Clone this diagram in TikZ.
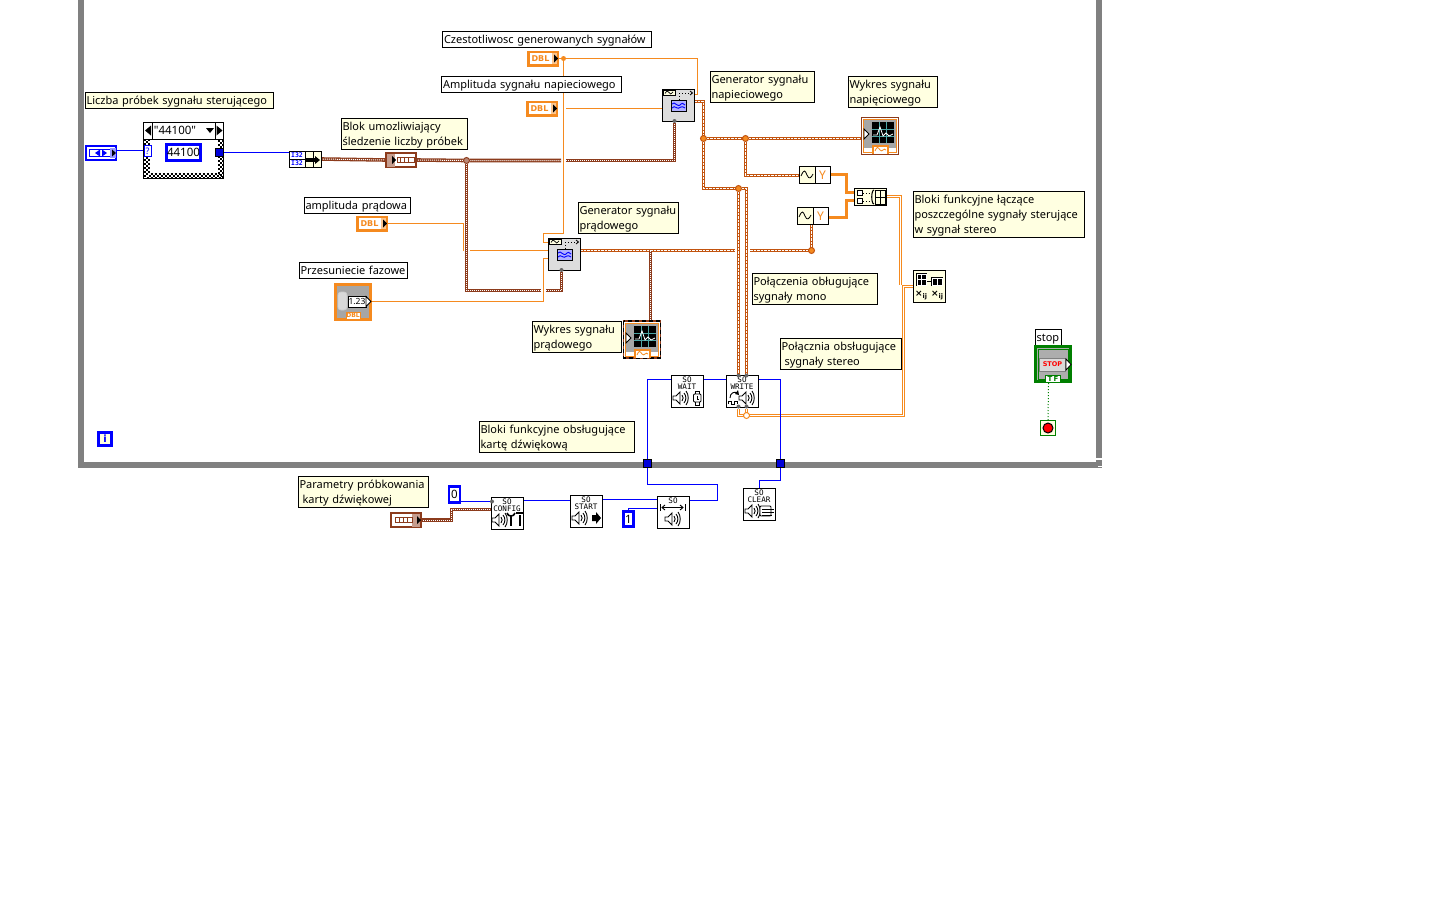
\documentclass[tikz,border=0pt]{standalone}
\usepackage{fontspec}
\setmainfont{Noto Sans}
\newfontfamily\plainsans{Noto Sans}
\newfontfamily\pixfont{DejaVu Sans Mono}
\newfontfamily\tagfont{DejaVu Sans}
\usetikzlibrary{calc}
\definecolor{cmtfill}{HTML}{FFFFE1}
\definecolor{framegray}{HTML}{808080}
\definecolor{dblor}{HTML}{F58A1F}
\definecolor{wfmbr}{HTML}{8C3B1C}
\definecolor{wfmor}{HTML}{C2540F}
\definecolor{intbl}{HTML}{0000FF}
\definecolor{genfill}{HTML}{DDDDDD}
\definecolor{lvgreen}{HTML}{007F00}
\pgfdeclarelayer{under}
\pgfsetlayers{under,main}
\tikzset{
  every node/.style={outer sep=0pt},
  cmt/.style={draw=black,line width=1pt,fill=cmtfill,anchor=north west,inner xsep=1.5pt,inner ysep=0pt,align=left,text height=11pt,text depth=2pt,font=\fontsize{11}{15}\selectfont},
  lbl/.style={cmt,fill=white},
  two/.style={text depth=17pt},
  three/.style={text depth=32pt},
  vi/.style={draw=black,line width=1pt,fill=white,minimum width=32pt,minimum height=32pt,inner sep=0pt,anchor=north west},
  gen/.style={vi,fill=genfill},
  dblbox/.style={draw=dblor,line width=2.5pt,fill=white,minimum width=29.5pt,minimum height=13.5pt,inner sep=0pt,text=dblor,font=\tagfont\bfseries\fontsize{8}{8}\selectfont},
  wfmbox/.style={draw=wfmbr,line width=2pt,fill=white,minimum width=30pt,minimum height=14pt,inner sep=0pt},
  numbox/.style={draw=intbl,line width=2.5pt,fill=white,inner sep=0pt,font=\fontsize{11.5}{12}\selectfont},
  tunnel/.style={draw=black,line width=.7pt,fill=intbl!85!black,minimum size=8pt,inner sep=0pt},
  dblw/.style={draw=dblor,line width=1pt},
  intw/.style={draw=intbl,line width=1pt},
  orthick/.style={draw=dblor,line width=3pt},
  orw/.style={draw=dblor,line width=3.4pt,postaction={draw=white,line width=1pt}},
  wfb/.style={draw=wfmbr,line width=3.6pt,postaction={draw=white,line width=1pt,dash pattern=on 1pt off 1pt}},
  wfo/.style={draw=wfmor,line width=3.6pt,postaction={draw=white,line width=1pt,dash pattern=on 2.5pt off 1pt}},
  joint/.style={circle,fill=dblor,draw=wfmor,line width=1pt,minimum size=6pt,inner sep=0pt},
  joinb/.style={circle,fill=wfmbr!60!white,draw=wfmbr,line width=1pt,minimum size=6pt,inner sep=0pt},
  joins/.style={circle,fill=dblor,minimum size=5pt,inner sep=0pt},
  port/.style={circle,fill=black!60,minimum size=4pt,inner sep=0pt},
  icon/.style={draw=black,line width=.9pt},
  sotext/.style={inner sep=0pt,font=\pixfont\fontsize{7.6}{8}\selectfont},
}
\newcommand{\spk}[2]{\begin{scope}[shift={(#1,#2)}]
  \draw[icon,fill=white] (0,-2)--(3,-2)--(7,-6)--(7,6)--(3,2)--(0,2)--cycle;
  \draw[icon] (9,-3) .. controls (10.5,-1.5) and (10.5,1.5) .. (9,3);
  \draw[icon] (11,-5) .. controls (13.5,-2) and (13.5,2) .. (11,5);
  \draw[icon] (13,-7) .. controls (16,-3) and (16,3) .. (13,7);
\end{scope}}
\newcommand{\sotitle}[3]{\node[sotext] at (#1,#2+5) {SO}; \node[sotext] at (#1,#2+12) {#3};}
\newcommand{\gentile}[2]{\begin{scope}[shift={(#1,#2)}]
  \draw[black,line width=.8pt,fill=cmtfill] (0,0) rectangle (12,5);
  \draw[black,line width=.7pt] (2,3.4) .. controls (4,0.5) and (5,0.5) .. (6,2.5) .. controls (7,4.5) and (8,4.5) .. (10,1.8);
  \draw[black,line width=1pt,dotted] (16,3)--(29,3);
  \draw[black,line width=.8pt] (27,1)--(29.5,3)--(27,5);
  \draw[black,line width=.8pt,dotted] (16,3)--(16,9);
  \draw[black,line width=1pt,fill=white] (8,10) rectangle (23,21);
  \fill[intbl!30!white] (8.6,10.6) rectangle (22.5,20.5);
  \draw[intbl,line width=.9pt] (9,14) .. controls (12,10) and (14,19) .. (18,14) .. controls (19,13) and (20,13) .. (22,15);
  \draw[intbl,line width=.9pt] (9,18) .. controls (12,14) and (14,21) .. (18,17) .. controls (19,16) and (20,17) .. (22,18);
\end{scope}}
\newcommand{\grafic}[2]{\begin{scope}[shift={(#1,#2)}]
  \draw[dblor,line width=1.6pt] (2.5,2.5) rectangle (35.5,35.5);
  \fill[black!35] (3.4,3.4) rectangle (34.6,31);
  \fill[black] (11,5) rectangle (33,26);
  \draw[teal!70!white,line width=.5pt] (11,12)--(33,12) (11,19)--(33,19) (18,5)--(18,26) (25,5)--(25,26);
  \draw[white,line width=.8pt] (12,18)--(16,18)--(19,10)--(22,19)--(25,16)--(28,19)--(32,17);
  \draw[black,line width=.8pt,fill=white] (3,12)--(8,17)--(3,22)--cycle;
  \draw[dblor,line width=1.2pt,fill=white] (12,37)--(12,29)--(27,29)--(27,37);
  \draw[dblor,line width=.8pt] (14,34) .. controls (16,29) and (17,30) .. (19,33) .. controls (21,36) and (23,30) .. (25,33);
\end{scope}}
\begin{document}
\begin{tikzpicture}[x=1pt,y=-1pt]
\useasboundingbox (0,0) rectangle (1440,900);
% ---------- comments and labels
\node[cmt,text width=185pt,minimum height=16pt] (cLiczba) at (85,92) {Liczba próbek sygnału sterującego};
\node[cmt,two,text width=123pt,minimum height=31pt] (cBlok) at (341,118) {Blok umozliwiający\\śledzenie liczby próbek};
\node[lbl,text width=103pt,minimum height=16pt] (cAmpPr) at (304,197) {amplituda prądowa};
\node[lbl,text width=105pt,minimum height=16pt] (cPrzes) at (299,262) {Przesuniecie fazowe};
\node[lbl,text width=206pt,minimum height=16pt] (cCzest) at (442.5,31) {Czestotliwosc generowanych sygnałów};
\node[lbl,text width=177pt,minimum height=16pt] (cAmpNap) at (441.5,76) {Amplituda sygnału napieciowego};
\node[cmt,two,text width=101pt,minimum height=31pt] (cGenNap) at (710,71) {Generator sygnału\\napieciowego};
\node[cmt,two,text width=86pt,minimum height=31pt] (cWykNap) at (848,76) {Wykres sygnału\\napięciowego};
\node[cmt,two,text width=97pt,minimum height=31pt] (cGenPr) at (578,202) {Generator sygnału\\prądowego};
\node[cmt,three,text width=168pt,minimum height=46pt] (cBloki) at (913,191) {Bloki funkcyjne łączące\\poszczególne sygnały sterujące\\w sygnał stereo};
\node[cmt,two,text width=122pt,minimum height=31pt] (cMono) at (752,273) {Połączenia obługujące\\sygnały mono};
\node[cmt,two,text width=118pt,minimum height=31pt] (cStereo) at (780,338) {Połącznia obsługujące\\\hspace*{3pt}sygnały stereo};
\node[cmt,two,text width=86pt,minimum height=31pt] (cWykPr) at (532,321) {Wykres sygnału\\prądowego};
\node[cmt,two,text width=152pt,minimum height=31pt] (cKarta) at (479,421) {Bloki funkcyjne obsługujące\\kartę dźwiękową};
\node[cmt,two,text width=127pt,minimum height=31pt] (cParam) at (298,476) {Parametry próbkowania\\\hspace*{3pt}karty dźwiękowej};
\node[lbl,text width=23pt,minimum height=16pt] (cStop) at (1035,329) {stop};
% ---------- case structure and its contents
\node[draw=black,line width=1pt,fill=white,minimum width=80pt,minimum height=56pt,inner sep=0pt,anchor=north west] (case) at (143.5,122.5) {};
\foreach \o/\s in {0/0,2/2,4/0}{
  \draw[black,line width=2pt,dash pattern=on 2pt off 2pt,dash phase=\s pt] (145+\o,139)--(145+\o,177.5-\o)--(222.5-\o,177.5-\o)--(222.5-\o,139);
}
\node[draw=black,line width=1pt,fill=white,minimum width=80pt,minimum height=17pt,inner sep=0pt,anchor=north west] (sel) at (143.5,122.5) {};
\draw[black,line width=1pt] (152.5,122.5)--(152.5,139) (215,122.5)--(215,139);
\fill[black] (145,130.5)--(151,125.5)--(151,135.5)--cycle;
\fill[black] (222.5,130.5)--(216.5,125.5)--(216.5,135.5)--cycle;
\fill[black] (206,128)--(214,128)--(210,133)--cycle;
\node[inner sep=0pt,font=\plainsans\fontsize{11.5}{12}\selectfont] (seltxt) at (175,130.5) {"44100"};
\node[draw=intbl,line width=1pt,fill=white,text=intbl,minimum width=7pt,minimum height=11pt,inner sep=0pt,font=\fontsize{9}{9}\selectfont] (selq) at (147.5,151) {?};
\node[numbox,minimum width=34pt,minimum height=16pt] (c44100) at (183.5,152.5) {44100};
\node[tunnel] (tcase) at (219.5,152.5) {};
% enum
\node[draw=intbl,line width=2.5pt,fill=white,minimum width=30pt,minimum height=14pt,inner sep=0pt] (enumc) at (101,153) {};
\draw[intbl,line width=1pt] (89,149.5) rectangle (110,156.5);
\fill[intbl!40!white] (110,148) rectangle (115.5,158);
\fill[intbl] (95,153)--(100,149.5)--(100,156.5)--cycle;
\fill[intbl] (107,153)--(102,149.5)--(102,156.5)--cycle;
\fill[black] (116,153)--(112,149.5)--(112,156.5)--cycle;
% build array
\node[draw=black,line width=1pt,fill=cmtfill,minimum width=32pt,minimum height=16pt,inner sep=0pt,anchor=north west] (build) at (289,151) {};
\draw[black,line width=1pt,fill=white] (289,151) rectangle (305,159) (289,159) rectangle (305,167);
\node[inner sep=0pt,text=intbl,font=\pixfont\bfseries\fontsize{6.5}{7}\selectfont] (i32a) at (297,155) {I32};
\node[inner sep=0pt,text=intbl,font=\pixfont\bfseries\fontsize{6.5}{7}\selectfont] (i32b) at (297,163) {I32};
\draw[black,line width=.8pt] (305,151)--(305,167) (313,151)--(313,167);
\fill[black] (306,158) rectangle (315,162);
\fill[black] (315,156)--(320,160)--(315,164)--cycle;
% waveform constant
\node[wfmbox,minimum width=30pt,minimum height=14pt] (wfm1) at (401,160) {};
\fill[wfmbr!50!white] (387,153.5) rectangle (395,166.5);
\fill[black] (396,160)--(392,156)--(392,164)--cycle;
\draw[wfmbr,line width=1pt] (397,157.5) rectangle (414,162.5);
\draw[wfmbr,line width=1pt] (400,158)--(400,162) (404,158)--(404,162) (408,158)--(408,162);
% DBL terminals
\node[dblbox] (dblF) at (543,58.5) {\hspace*{-5pt}DBL};
\fill[dblor!50!white] (552,53) rectangle (557,64); \fill[black] (558,58.5)--(554,54.5)--(554,62.5)--cycle;
\node[dblbox] (dblA) at (542,108.5) {\hspace*{-5pt}DBL};
\fill[dblor!50!white] (551,103) rectangle (556,114); \fill[black] (557,108.5)--(553,104.5)--(553,112.5)--cycle;
\node[dblbox] (dblP) at (372,223.5) {\hspace*{-5pt}DBL};
\fill[dblor!50!white] (381,218) rectangle (386,229); \fill[black] (387,223.5)--(383,219.5)--(383,227.5)--cycle;
% phase control
\node[draw=dblor,line width=3pt,fill=black!35,minimum width=35pt,minimum height=35pt,inner sep=0pt] (ctlPh) at (353,301.5) {};
\draw[white!80!black,line width=.8pt,fill=black!15,rounded corners=3pt] (338,292) rectangle (347,310);
\node[draw=black,line width=.5pt,fill=white,minimum width=18pt,minimum height=11pt,inner sep=0pt,font=\fontsize{8.5}{9}\selectfont] (ctlTxt) at (357,301.5) {1.23};
\draw[black,line width=.8pt,fill=white] (366,296.5)--(371,301.5)--(366,306.5)--cycle;
\node[draw=dblor,line width=1pt,fill=white,text=dblor,minimum width=14pt,minimum height=7pt,inner sep=0pt,font=\tagfont\bfseries\fontsize{6}{7}\selectfont] (ctlTag) at (353,315.5) {DBL};
% generators
\node[gen] (gen1) at (662,89) {};
\gentile{663}{90}
\node[gen] (gen2) at (548,238) {};
\gentile{549}{239}
% graphs
\node[draw=wfmbr,line width=1pt,fill=white,minimum width=37pt,minimum height=37pt,inner sep=0pt,anchor=north west] (gr1) at (861.5,117.5) {};
\grafic{861}{117}
\node[draw=wfmbr,line width=1.5pt,fill=white,minimum width=37pt,minimum height=37pt,inner sep=0pt,anchor=north west] (gr2) at (623.5,321) {};
\draw[black,line width=1.5pt,dash pattern=on 4pt off 3pt] (623.5,321) rectangle (660.5,358);
\grafic{623}{321}
% to-dynamic blocks
\node[draw=black,line width=1pt,fill=white,minimum width=31pt,minimum height=17pt,inner sep=0pt,anchor=north west] (dyn1) at (799,166.5) {};
\fill[cmtfill] (799.5,167) rectangle (815,183);
\draw[black,line width=1pt] (815,166.5)--(815,183.5);
\draw[black,line width=.8pt] (801,176) .. controls (804,169) and (805,170) .. (807,175) .. controls (809,180) and (811,178) .. (813,174);
\node[inner sep=0pt,text=dblor,font=\fontsize{12}{12}\selectfont] (dyn1y) at (822.5,175) {Y};
\node[draw=black,line width=1pt,fill=white,minimum width=31pt,minimum height=17pt,inner sep=0pt,anchor=north west] (dyn2) at (797,207.5) {};
\fill[cmtfill] (797.5,208) rectangle (813,224);
\draw[black,line width=1pt] (813,207.5)--(813,224.5);
\draw[black,line width=.8pt] (799,217) .. controls (802,210) and (803,211) .. (805,216) .. controls (807,221) and (809,219) .. (811,215);
\node[inner sep=0pt,text=dblor,font=\fontsize{12}{12}\selectfont] (dyn2y) at (820.5,216) {Y};
% merge matrix block
\node[draw=black,line width=1pt,fill=cmtfill,minimum width=32pt,minimum height=17pt,inner sep=0pt,anchor=north west] (mrg) at (854,188) {};
\draw[black,line width=.9pt,fill=white] (857,190.5) rectangle (862,195) (857,198.5) rectangle (862,203);
\draw[black,line width=.8pt,dotted] (863,193)--(871,193) (863,201)--(871,201);
\draw[black,line width=1.1pt] (874,190) .. controls (871,190) and (871,204) .. (874,204);
\draw[black,line width=1pt] (875,190) rectangle (885,204) (875,197)--(885,197) (880,190)--(880,204);
% stereo split block
\node[draw=black,line width=1pt,fill=cmtfill,minimum width=32pt,minimum height=32pt,inner sep=0pt,anchor=north west] (spl) at (913.5,270.5) {};
\fill[black] (916,273) rectangle (927,286);
\draw[white,line width=.7pt] (917,274) rectangle (926,285) (921.5,274)--(921.5,285) (917,279.5)--(926,279.5);
\fill[black] (931,277) rectangle (943,286);
\draw[white,line width=.7pt] (932,278) rectangle (942,285) (937,278)--(937,285);
\draw[black,line width=.8pt] (927,281)--(931,281);
\node[inner sep=0pt,font=\tagfont\bfseries\fontsize{9}{9}\selectfont] (splA) at (921,295.5) {×\raisebox{-1.5pt}{\fontsize{6.5}{7}\selectfont ij}};
\node[inner sep=0pt,font=\tagfont\bfseries\fontsize{9}{9}\selectfont] (splB) at (937,295.5) {×\raisebox{-1.5pt}{\fontsize{6.5}{7}\selectfont ij}};
% sound blocks
\node[vi] (wait) at (671,375) {};
\sotitle{687}{375}{WAIT}
\spk{673}{398}
\draw[icon,fill=white,rounded corners=1pt] (693.5,394) rectangle (701,402);
\draw[icon] (695,391)--(699.5,391)--(699.5,394) (695,391)--(695,394) (695,402)--(695,405)--(699.5,405)--(699.5,402) (697,396)--(697,399)--(699,399);
\node[vi] (write) at (726,375) {};
\sotitle{742}{375}{WRITE}
\spk{739}{398}
\draw[icon] (728,404)--(728,401)--(731,401)--(731,404)--(734,404)--(734,401)--(737,401)--(737,404);
\draw[icon] (730,398) .. controls (730,393) and (734,391) .. (738,393);
\fill[black] (738,390)--(739,395)--(735,394)--cycle;
\node[vi] (config) at (491,497) {};
\sotitle{507}{497}{CONFIG}
\spk{492}{520}
\draw[black,line width=2pt] (511,515)--(511,526) (520,515)--(520,526);
\draw[black,line width=1.6pt] (507,513) .. controls (508,517) and (514,517) .. (515,513);
\draw[black,line width=2.2pt] (516,513)--(524,513);
\node[vi] (start) at (570,495) {};
\sotitle{586}{495}{START}
\spk{572}{518}
\fill[black] (592,515) rectangle (596,521) (596,512)--(601,518)--(596,524)--cycle;
\node[vi] (setb) at (657,496) {};
\node[sotext] (settxt) at (673,501) {SO};
\draw[black,line width=.9pt] (660,504)--(660,511) (685,504)--(685,511) (662,507.5)--(683,507.5);
\draw[black,line width=.9pt] (665,505)--(662,507.5)--(665,510) (680,505)--(683,507.5)--(680,510);
\spk{665}{519}
\node[vi] (clear) at (743,488) {};
\sotitle{759}{488}{CLEAR}
\spk{745}{511}
\draw[icon,fill=white,rounded corners=1pt] (760,506) rectangle (771,516);
\draw[icon] (762,509)--(774,509) (762,512)--(774,512) (762,515)--(772,515);
% numeric constants
\node[numbox,minimum width=11pt,minimum height=16pt] (c0) at (454.5,494.5) {0};
\node[numbox,minimum width=10pt,minimum height=15pt] (c1) at (628.5,519) {1};
% sample rate waveform constant
\node[wfmbox,minimum width=30pt,minimum height=14pt] (wfm2) at (406,520) {};
\fill[wfmbr!50!white] (412,513.5) rectangle (420,526.5);
\fill[black] (421,520)--(417,516)--(417,524)--cycle;
\draw[wfmbr,line width=1pt] (395,517.5) rectangle (412,522.5);
\draw[wfmbr,line width=1pt] (399,518)--(399,522) (403,518)--(403,522) (407,518)--(407,522);
% loop terminals and tunnels
\node[draw=intbl,line width=2.5pt,fill=cmtfill,minimum size=13pt,inner sep=0pt,text=intbl,font=\tagfont\bfseries\fontsize{10}{10}\selectfont] (iterm) at (105,439) {i};
\node[tunnel] (tL) at (647.5,463.5) {};
\node[tunnel] (tR) at (780.5,463.5) {};
% stop
\node[draw=lvgreen,line width=2.5pt,fill=black!32,minimum width=35pt,minimum height=35pt,inner sep=0pt] (stopc) at (1053,364) {};
\draw[lvgreen,line width=1pt] (1038,349) rectangle (1068,379);
\node[draw=black!50,line width=1pt,fill=black!15,text=red,minimum width=26pt,minimum height=13pt,inner sep=0pt,font=\tagfont\bfseries\fontsize{6.5}{7}\selectfont] (stopb) at (1052.5,364.5) {STOP};
\draw[black,line width=.8pt,fill=white] (1066,359)--(1071,364.5)--(1066,370)--cycle;
\node[draw=lvgreen,line width=1pt,fill=white,text=lvgreen,minimum width=15pt,minimum height=7pt,inner sep=0pt,font=\tagfont\bfseries\fontsize{7}{7}\selectfont] (stopt) at (1053,378.5) {T\,F};
\node[draw=lvgreen,line width=1pt,fill=cmtfill,minimum size=15pt,inner sep=0pt] (stopterm) at (1048,428) {};
\node[circle,draw=black,line width=1pt,fill=red,minimum size=10pt,inner sep=0pt] (stopdot) at (1048,428) {};
% junctions and ports
\node[joins] (jF) at (563.5,58.5) {};
\node[joinb] (jB) at (466.5,160.5) {};
\node[joint] (jG1) at (703.5,138.5) {};
\node[joint] (jG2) at (745.5,138.5) {};
\node[joint] (jG3) at (738.5,188.5) {};
\node[joint] (jG4) at (811.5,250.5) {};
\node[circle,draw=dblor,line width=1pt,fill=white,minimum size=6pt,inner sep=0pt] (jS) at (746.5,415.5) {};
\node[port] (pG1) at (674.5,121) {};
\node[port] (pG2) at (561.5,270) {};
\node[port] (pWa) at (738.5,375.5) {};
\node[port] (pWb) at (746.5,375.5) {};
\node[port] (pWc) at (738.5,406.5) {};
\node[port] (pWd) at (746.5,406.5) {};
\node[port] (pCf) at (492,501.5) {};
% ---------- frame and wires under the blocks
\begin{pgfonlayer}{under}
\draw[framegray,line width=6pt] (81,-6)--(81,465)--(1099,465)--(1099,-6);
\draw[white,line width=1.5pt] (1096,459)--(1102,459) (1098,466.5)--(1102,466.5);
% thin orange
\coordinate (xA) at (566,108.5);
\draw[dblw] (dblF.east)--(jF)--(697.5,58.5)--(697.5,94.5)--(gen1.east|-0,94.5);
\draw[dblw] (dblA.east)--(558,108.5);
\draw[dblw] (xA)--(gen1.west|-xA);
\draw[dblw] (jF)--(563.5,233.5)--(543.5,233.5)--(543.5,242.5)--(gen2.west|-0,242.5);
\draw[dblw] (dblP.east)--(463.5,223.5)--(463.5,250.5);
\draw[dblw] (469.5,250.5)--(gen2.west|-0,250.5);
\draw[dblw] (ctlPh.east)--(543.5,301.5)--(543.5,258.5)--(gen2.west|-0,258.5);
% brown input wires
\draw[wfb] (build.east)--(wfm1.west);
\draw[wfb] (wfm1.east)--(jB)--(561,160.5);
\draw[wfb] (566,160.5)--(674.5,160.5)--(pG1);
\draw[wfb] (jB)--(466.5,290.5)--(541,290.5);
\draw[wfb] (546,290.5)--(561.5,290.5)--(pG2);
\draw[wfb] (wfm2.east)--(451.5,520)--(451.5,509.5)--(config.west|-0,509.5);
% generator output wires
\draw[wfo] (gen1.east|-0,101.5)--(703.5,101.5)--(jG1)--(703.5,188.5)--(jG3);
\draw[wfo] (jG1)--(jG2)--(gr1.west|-jG1);
\draw[wfo] (jG2)--(745.5,175.5)--(dyn1.west|-0,175.5);
\draw[wfo] (jG3)--(pWa);
\draw[wfo] (jG3)--(746.5,188.5)--(pWb);
\draw[wfo] (gen2.east|-0,250.5)--(735,250.5);
\draw[wfo] (750,250.5)--(jG4)--(811.5,224);
\draw[wfb] (650.5,250.5)--(650.5,321);
% thick orange
\draw[orthick] (dyn1.east|-0,174.5)--(846,174.5)--(846,192.5)--(mrg.west|-0,192.5);
\draw[orthick] (dyn2.east|-0,217.5)--(846,217.5)--(846,200.5)--(mrg.west|-0,200.5);
% stereo wires
\draw[orw] (mrg.east|-0,196.5)--(900.5,196.5)--(900.5,285);
\draw[orw] (spl.west|-0,286.5)--(903.5,286.5)--(903.5,415.5)--(738.5,415.5)--(pWc);
\draw[orw] (pWd)--(jS);
% blue wires
\draw[intw] (enumc.east|-0,150.5)--(selq.west|-0,150.5);
\draw[intw] (c44100.east)--(tcase.west);
\draw[intw] (tcase.east)--(build.west|-0,152.5);
\draw[intw] (tL)--(647.5,379.5)--(wait.west|-0,379.5);
\draw[intw] (wait.east|-0,379.5)--(write.west|-0,379.5);
\draw[intw] (write.east|-0,379.5)--(780.5,379.5)--(tR);
\draw[intw] (tL)--(647.5,484.5)--(717.5,484.5)--(717.5,500.5)--(setb.east|-0,500.5);
\draw[intw] (tR)--(780.5,480.5)--(759,480.5)--(clear.north);
\draw[intw] (c0.east|-0,501.5)--(config.west|-0,501.5);
\draw[intw] (config.east|-0,500.5)--(start.west|-0,500.5);
\draw[intw] (start.east|-0,499.5)--(setb.west|-0,499.5);
\draw[intw] (c1.north)--(628.5,508.5)--(setb.west|-0,508.5);
\draw[lvgreen,line width=1pt,dotted] (1048.5,383)--(stopterm.north);
\end{pgfonlayer}
\end{tikzpicture}
\end{document}
